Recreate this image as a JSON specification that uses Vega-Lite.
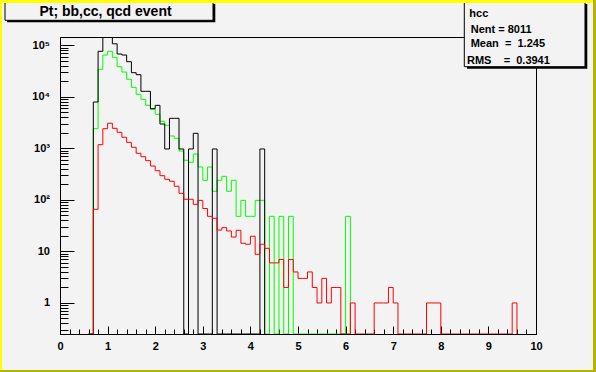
{
"$schema": "https://vega.github.io/schema/vega-lite/v6.json",
"width": 476, "height": 297,
"autosize": {"type": "none"},
"padding": {"left": 60, "top": 37, "right": 60, "bottom": 38},
"background": "#f3f3f3",
"config": {"view": {"stroke": "#000000", "strokeWidth": 1, "fill": "#f3f3f3"}},
"resolve": {"scale": {"y": "independent"}, "axis": {"x": "independent", "y": "independent"}},
"datasets": {"hist": [
{"s":"cc","x":0.6,"n":0},{"s":"cc","x":0.7,"n":2410},{"s":"cc","x":0.8,"n":34200},{"s":"cc","x":0.9,"n":64800},{"s":"cc","x":1.0,"n":76500},{"s":"cc","x":1.1,"n":58500},{"s":"cc","x":1.2,"n":38400},{"s":"cc","x":1.3,"n":30300},{"s":"cc","x":1.4,"n":21900},{"s":"cc","x":1.5,"n":15300},{"s":"cc","x":1.6,"n":11200},{"s":"cc","x":1.7,"n":8960},{"s":"cc","x":1.8,"n":6840},{"s":"cc","x":1.9,"n":5730},{"s":"cc","x":2.0,"n":4580},{"s":"cc","x":2.1,"n":3350},{"s":"cc","x":2.2,"n":2800},{"s":"cc","x":2.3,"n":1740},{"s":"cc","x":2.4,"n":1570},{"s":"cc","x":2.5,"n":889},{"s":"cc","x":2.6,"n":587},{"s":"cc","x":2.7,"n":537},{"s":"cc","x":2.8,"n":778},{"s":"cc","x":2.9,"n":435},{"s":"cc","x":3.0,"n":240},{"s":"cc","x":3.1,"n":435},{"s":"cc","x":3.2,"n":147},{"s":"cc","x":3.3,"n":240},{"s":"cc","x":3.4,"n":287},{"s":"cc","x":3.5,"n":147},{"s":"cc","x":3.6,"n":240},{"s":"cc","x":3.7,"n":48},{"s":"cc","x":3.8,"n":98},{"s":"cc","x":3.9,"n":48},{"s":"cc","x":4.0,"n":48},{"s":"cc","x":4.1,"n":98},{"s":"cc","x":4.2,"n":98},{"s":"cc","x":4.3,"n":0},{"s":"cc","x":4.4,"n":48},{"s":"cc","x":4.5,"n":0},{"s":"cc","x":4.6,"n":48},{"s":"cc","x":4.7,"n":0},{"s":"cc","x":4.8,"n":48},{"s":"cc","x":4.9,"n":0},{"s":"cc","x":5.0,"n":0},{"s":"cc","x":5.1,"n":0},{"s":"cc","x":5.2,"n":0},{"s":"cc","x":5.3,"n":0},{"s":"cc","x":5.4,"n":0},{"s":"cc","x":5.5,"n":0},{"s":"cc","x":5.6,"n":0},{"s":"cc","x":5.7,"n":0},{"s":"cc","x":5.8,"n":0},{"s":"cc","x":5.9,"n":0},{"s":"cc","x":6.0,"n":48},{"s":"cc","x":6.1,"n":0},
{"s":"qcd","x":0.6,"n":0},{"s":"qcd","x":0.7,"n":7940},{"s":"qcd","x":0.8,"n":76500},{"s":"qcd","x":0.9,"n":200000},{"s":"qcd","x":1.0,"n":170000},{"s":"qcd","x":1.1,"n":107000},{"s":"qcd","x":1.2,"n":67800},{"s":"qcd","x":1.3,"n":64800},{"s":"qcd","x":1.4,"n":48100},{"s":"qcd","x":1.5,"n":29400},{"s":"qcd","x":1.6,"n":26900},{"s":"qcd","x":1.7,"n":12800},{"s":"qcd","x":1.8,"n":12800},{"s":"qcd","x":1.9,"n":5890},{"s":"qcd","x":2.0,"n":6840},{"s":"qcd","x":2.1,"n":2970},{"s":"qcd","x":2.2,"n":973},{"s":"qcd","x":2.3,"n":3830},{"s":"qcd","x":2.4,"n":3830},{"s":"qcd","x":2.5,"n":973},{"s":"qcd","x":2.6,"n":0},{"s":"qcd","x":2.7,"n":973},{"s":"qcd","x":2.8,"n":1960},{"s":"qcd","x":2.9,"n":0},{"s":"qcd","x":3.0,"n":0},{"s":"qcd","x":3.1,"n":0},{"s":"qcd","x":3.2,"n":973},{"s":"qcd","x":3.3,"n":0},{"s":"qcd","x":3.4,"n":0},{"s":"qcd","x":3.5,"n":0},{"s":"qcd","x":3.6,"n":0},{"s":"qcd","x":3.7,"n":0},{"s":"qcd","x":3.8,"n":0},{"s":"qcd","x":3.9,"n":0},{"s":"qcd","x":4.0,"n":0},{"s":"qcd","x":4.1,"n":0},{"s":"qcd","x":4.2,"n":973},{"s":"qcd","x":4.3,"n":0},
{"s":"bb","x":0.6,"n":0},{"s":"bb","x":0.7,"n":65.8},{"s":"bb","x":0.8,"n":1180},{"s":"bb","x":0.9,"n":2410},{"s":"bb","x":1.0,"n":3070},{"s":"bb","x":1.1,"n":2450},{"s":"bb","x":1.2,"n":2050},{"s":"bb","x":1.3,"n":1640},{"s":"bb","x":1.4,"n":1310},{"s":"bb","x":1.5,"n":1050},{"s":"bb","x":1.6,"n":803},{"s":"bb","x":1.7,"n":690},{"s":"bb","x":1.8,"n":577},{"s":"bb","x":1.9,"n":455},{"s":"bb","x":2.0,"n":369},{"s":"bb","x":2.1,"n":295},{"s":"bb","x":2.2,"n":251},{"s":"bb","x":2.3,"n":230},{"s":"bb","x":2.4,"n":184},{"s":"bb","x":2.5,"n":134},{"s":"bb","x":2.6,"n":103},{"s":"bb","x":2.7,"n":103},{"s":"bb","x":2.8,"n":82},{"s":"bb","x":2.9,"n":98},{"s":"bb","x":3.0,"n":68},{"s":"bb","x":3.1,"n":48},{"s":"bb","x":3.2,"n":44},{"s":"bb","x":3.3,"n":26},{"s":"bb","x":3.4,"n":29},{"s":"bb","x":3.5,"n":25},{"s":"bb","x":3.6,"n":19},{"s":"bb","x":3.7,"n":25.7},{"s":"bb","x":3.8,"n":14.4},{"s":"bb","x":3.9,"n":13.8},{"s":"bb","x":4.0,"n":19.7},{"s":"bb","x":4.1,"n":8.8},{"s":"bb","x":4.2,"n":13.8},{"s":"bb","x":4.3,"n":11.5},{"s":"bb","x":4.4,"n":6},{"s":"bb","x":4.5,"n":6},{"s":"bb","x":4.6,"n":7},{"s":"bb","x":4.7,"n":2},{"s":"bb","x":4.8,"n":7},{"s":"bb","x":4.9,"n":4},{"s":"bb","x":5.0,"n":3},{"s":"bb","x":5.1,"n":3},{"s":"bb","x":5.2,"n":4},{"s":"bb","x":5.3,"n":2},{"s":"bb","x":5.4,"n":1},{"s":"bb","x":5.5,"n":3},{"s":"bb","x":5.6,"n":1},{"s":"bb","x":5.7,"n":2},{"s":"bb","x":5.8,"n":2},{"s":"bb","x":5.9,"n":0},{"s":"bb","x":6.0,"n":0},{"s":"bb","x":6.1,"n":1},{"s":"bb","x":6.2,"n":0},{"s":"bb","x":6.3,"n":0},{"s":"bb","x":6.4,"n":0},{"s":"bb","x":6.5,"n":0},{"s":"bb","x":6.6,"n":1},{"s":"bb","x":6.7,"n":1},{"s":"bb","x":6.8,"n":1},{"s":"bb","x":6.9,"n":2},{"s":"bb","x":7.0,"n":1},{"s":"bb","x":7.1,"n":0},{"s":"bb","x":7.2,"n":0},{"s":"bb","x":7.3,"n":0},{"s":"bb","x":7.4,"n":0},{"s":"bb","x":7.5,"n":0},{"s":"bb","x":7.6,"n":0},{"s":"bb","x":7.7,"n":1},{"s":"bb","x":7.8,"n":1},{"s":"bb","x":7.9,"n":1},{"s":"bb","x":8.0,"n":0},{"s":"bb","x":8.1,"n":0},{"s":"bb","x":8.2,"n":0},{"s":"bb","x":8.3,"n":0},{"s":"bb","x":8.4,"n":0},{"s":"bb","x":8.5,"n":0},{"s":"bb","x":8.6,"n":0},{"s":"bb","x":8.7,"n":0},{"s":"bb","x":8.8,"n":0},{"s":"bb","x":8.9,"n":0},{"s":"bb","x":9.0,"n":0},{"s":"bb","x":9.1,"n":0},{"s":"bb","x":9.2,"n":0},{"s":"bb","x":9.3,"n":0},{"s":"bb","x":9.4,"n":0},{"s":"bb","x":9.5,"n":1},{"s":"bb","x":9.6,"n":0}
]},
"layer": [
{"data": {"values": []},
 "mark": {"type": "point", "opacity": 0},
 "encoding": {
  "x": {"field": "x", "type": "quantitative", "scale": {"domain": [0, 10], "nice": false, "zero": false},
        "axis": {"orient": "bottom", "values": [0.2,0.4,0.6,0.8,1.2,1.4,1.6,1.8,2.2,2.4,2.6,2.8,3.2,3.4,3.6,3.8,4.2,4.4,4.6,4.8,5.2,5.4,5.6,5.8,6.2,6.4,6.6,6.8,7.2,7.4,7.6,7.8,8.2,8.4,8.6,8.8,9.2,9.4,9.6,9.8],
                 "tickSize": -5, "tickColor": "#000000", "tickWidth": 1, "labels": false, "domain": false, "grid": false, "title": null}},
  "y": {"field": "n", "type": "quantitative", "scale": {"type": "log", "domain": [0.25, 145000], "nice": false},
        "axis": {"orient": "left", "values": [0.3,0.4,0.5,0.6,0.7,0.8,0.9,2,3,4,5,6,7,8,9,20,30,40,50,60,70,80,90,200,300,400,500,600,700,800,900,2000,3000,4000,5000,6000,7000,8000,9000,20000,30000,40000,50000,60000,70000,80000,90000],
                 "tickSize": -8, "tickColor": "#000000", "tickWidth": 1, "labels": false, "domain": false, "grid": false, "title": null}}
 }},
{"data": {"name": "hist"},
 "mark": {"type": "line", "interpolate": "step-after", "strokeWidth": 1, "clip": true, "invalid": "show"},
 "encoding": {
  "x": {"field": "x", "type": "quantitative", "scale": {"domain": [0, 10], "nice": false, "zero": false},
        "axis": {"orient": "bottom", "values": [0,1,2,3,4,5,6,7,8,9,10], "format": "d", "tickSize": -8, "tickColor": "#000000", "tickWidth": 1,
                 "domainColor": "#000000", "domainWidth": 1, "labelFont": "Liberation Sans", "labelFontSize": 11, "labelFontWeight": "bold",
                 "labelColor": "#000000", "labelPadding": 14, "labelFlush": false, "labelOverlap": false, "grid": false, "title": null}},
  "y": {"field": "n", "type": "quantitative", "scale": {"type": "log", "domain": [0.25, 145000], "nice": false, "clamp": true},
        "axis": {"orient": "left", "values": [1,10,100,1000,10000,100000], "tickSize": -14, "tickColor": "#000000", "tickWidth": 1,
                 "domainColor": "#000000", "domainWidth": 1, "labelFont": "Liberation Sans", "labelFontSize": 11, "labelFontWeight": "bold",
                 "labelColor": "#000000", "labelPadding": 24.5, "labelFlush": false, "labelOverlap": false, "labelBaseline": "middle", "grid": false, "title": null,
                 "labelExpr": "datum.value == 1 ? '1' : datum.value == 10 ? '10' : datum.value == 100 ? '10²' : datum.value == 1000 ? '10³' : datum.value == 10000 ? '10⁴' : '10⁵'"}},
  "color": {"field": "s", "type": "nominal", "scale": {"domain": ["cc", "qcd", "bb"], "range": ["#00ff00", "#000000", "#ff0000"]}, "legend": null}
 }},
{"data": {"values": [{}]},
 "mark": {"type": "rect", "fill": "#000000", "clip": false},
 "encoding": {
  "x": {"datum": -1.11345, "type": "quantitative", "scale": {"domain": [0, 10], "nice": false, "zero": false}, "axis": null},
  "x2": {"datum": 3.2626},
  "y": {"datum": 633500, "type": "quantitative", "scale": {"type": "log", "domain": [0.25, 145000], "nice": false}, "axis": null},
  "y2": {"datum": 279700}
 }},
{"data": {"values": [{}]},
 "mark": {"type": "rect", "fill": "#f3f3f3", "stroke": "#000000", "strokeWidth": 1, "clip": false},
 "encoding": {
  "x": {"datum": -1.15546, "type": "quantitative", "scale": {"domain": [0, 10], "nice": false, "zero": false}, "axis": null},
  "x2": {"datum": 3.21429},
  "y": {"datum": 692700, "type": "quantitative", "scale": {"type": "log", "domain": [0.25, 145000], "nice": false}, "axis": null},
  "y2": {"datum": 305800}
 }},
{"data": {"values": [{}]},
 "mark": {"type": "rect", "fill": "#000000", "clip": false},
 "encoding": {
  "x": {"datum": 8.5504, "type": "quantitative", "scale": {"domain": [0, 10], "nice": false, "zero": false}, "axis": null},
  "x2": {"datum": 11.0777},
  "y": {"datum": 633500, "type": "quantitative", "scale": {"type": "log", "domain": [0.25, 145000], "nice": false}, "axis": null},
  "y2": {"datum": 35170}
 }},
{"data": {"values": [{}]},
 "mark": {"type": "rect", "fill": "#f3f3f3", "stroke": "#000000", "strokeWidth": 1, "clip": false},
 "encoding": {
  "x": {"datum": 8.4937, "type": "quantitative", "scale": {"domain": [0, 10], "nice": false, "zero": false}, "axis": null},
  "x2": {"datum": 11.0294},
  "y": {"datum": 692700, "type": "quantitative", "scale": {"type": "log", "domain": [0.25, 145000], "nice": false}, "axis": null},
  "y2": {"datum": 38460}
 }},
{"data": {"values": [{}]},
 "mark": {"type": "text", "font": "Liberation Sans", "fontSize": 14, "fontWeight": "bold", "color": "#000000", "align": "center", "baseline": "alphabetic", "clip": false},
 "encoding": {
  "x": {"datum": 0.9559, "type": "quantitative", "scale": {"domain": [0, 10], "nice": false, "zero": false}, "axis": null},
  "y": {"datum": 375600, "type": "quantitative", "scale": {"type": "log", "domain": [0.25, 145000], "nice": false}, "axis": null},
  "text": {"value": "Pt; bb,cc, qcd event"}
 }},
{"data": {"values": [{}]},
 "mark": {"type": "text", "font": "Liberation Sans", "fontSize": 11, "fontWeight": "bold", "color": "#000000", "align": "left", "baseline": "alphabetic", "clip": false},
 "encoding": {
  "x": {"datum": 8.5987, "type": "quantitative", "scale": {"domain": [0, 10], "nice": false, "zero": false}, "axis": null},
  "y": {"datum": 349800, "type": "quantitative", "scale": {"type": "log", "domain": [0.25, 145000], "nice": false}, "axis": null},
  "text": {"value": "hcc"}
 }},
{"data": {"values": [{}]},
 "mark": {"type": "text", "font": "Liberation Sans", "fontSize": 11, "fontWeight": "bold", "color": "#000000", "align": "left", "baseline": "alphabetic", "clip": false},
 "encoding": {
  "x": {"datum": 8.6282, "type": "quantitative", "scale": {"domain": [0, 10], "nice": false, "zero": false}, "axis": null},
  "y": {"datum": 175700, "type": "quantitative", "scale": {"type": "log", "domain": [0.25, 145000], "nice": false}, "axis": null},
  "text": {"value": "Nent = 8011"}
 }},
{"data": {"values": [{}]},
 "mark": {"type": "text", "font": "Liberation Sans", "fontSize": 11, "fontWeight": "bold", "color": "#000000", "align": "left", "baseline": "alphabetic", "clip": false},
 "encoding": {
  "x": {"datum": 8.6282, "type": "quantitative", "scale": {"domain": [0, 10], "nice": false, "zero": false}, "axis": null},
  "y": {"datum": 91510, "type": "quantitative", "scale": {"type": "log", "domain": [0.25, 145000], "nice": false}, "axis": null},
  "text": {"value": "Mean\u00a0\u00a0=\u00a0\u00a01.245"}
 }},
{"data": {"values": [{}]},
 "mark": {"type": "text", "font": "Liberation Sans", "fontSize": 11, "fontWeight": "bold", "color": "#000000", "align": "left", "baseline": "alphabetic", "clip": false},
 "encoding": {
  "x": {"datum": 8.5504, "type": "quantitative", "scale": {"domain": [0, 10], "nice": false, "zero": false}, "axis": null},
  "y": {"datum": 43390, "type": "quantitative", "scale": {"type": "log", "domain": [0.25, 145000], "nice": false}, "axis": null},
  "text": {"value": "RMS\u00a0\u00a0\u00a0\u00a0=\u00a0\u00a00.3941"}
 }},
{"data": {"values": [{}]},
 "mark": {"type": "rect", "fill": "#ffff00", "clip": false},
 "encoding": {
  "x": {"datum": -2, "type": "quantitative", "scale": {"domain": [0, 10], "nice": false, "zero": false}, "axis": null},
  "x2": {"datum": 12},
  "y": {"datum": 10000000, "type": "quantitative", "scale": {"type": "log", "domain": [0.25, 145000], "nice": false}, "axis": null},
  "y2": {"datum": 662400}
 }},
{"data": {"values": [{}]},
 "mark": {"type": "rect", "fill": "#ffff00", "clip": false},
 "encoding": {
  "x": {"datum": -2, "type": "quantitative", "scale": {"domain": [0, 10], "nice": false, "zero": false}, "axis": null},
  "x2": {"datum": -1.2185},
  "y": {"datum": 10000000, "type": "quantitative", "scale": {"type": "log", "domain": [0.25, 145000], "nice": false}, "axis": null},
  "y2": {"datum": 0.001}
 }},
{"data": {"values": [{}]},
 "mark": {"type": "rect", "fill": "#b5b500", "clip": false},
 "encoding": {
  "x": {"datum": 11.1975, "type": "quantitative", "scale": {"domain": [0, 10], "nice": false, "zero": false}, "axis": null},
  "x2": {"datum": 12},
  "y": {"datum": 10000000, "type": "quantitative", "scale": {"type": "log", "domain": [0.25, 145000], "nice": false}, "axis": null},
  "y2": {"datum": 0.001}
 }},
{"data": {"values": [{}]},
 "mark": {"type": "rect", "fill": "#b5b500", "clip": false},
 "encoding": {
  "x": {"datum": -2, "type": "quantitative", "scale": {"domain": [0, 10], "nice": false, "zero": false}, "axis": null},
  "x2": {"datum": 12},
  "y": {"datum": 0.05004, "type": "quantitative", "scale": {"type": "log", "domain": [0.25, 145000], "nice": false}, "axis": null},
  "y2": {"datum": 0.001}
 }}
]
}
